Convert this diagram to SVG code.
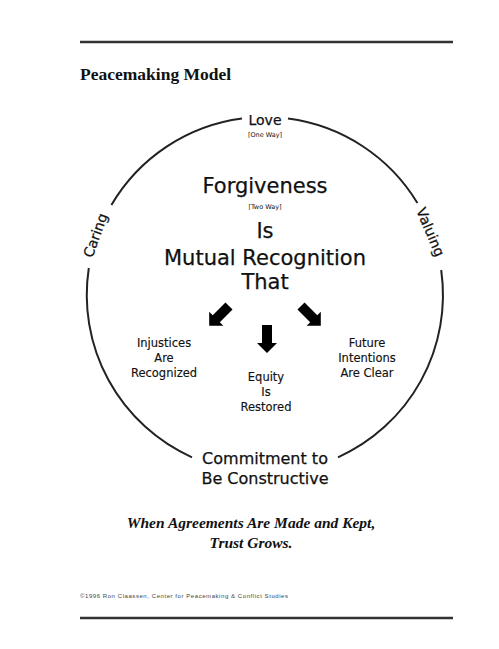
<svg xmlns="http://www.w3.org/2000/svg" width="499" height="649" viewBox="0 0 499 649">
<style>
.h{font-family:"DejaVu Sans","Liberation Sans",sans-serif;fill:#111;text-anchor:middle;stroke:#111;stroke-width:0.25}
.big{font-size:21px}
.mid{font-size:16px}
.sm{font-size:11.5px;stroke-width:0.15}
.tiny{font-size:6.5px;stroke-width:0}
.rule{stroke:#333;stroke-width:2.5}
.arc{fill:none;stroke:#222;stroke-width:2}
.arr{fill:#000}
.ft{font-family:"Liberation Serif",serif;font-weight:bold;font-style:italic;font-size:15.5px;fill:#111;text-anchor:middle}
</style>
<rect width="499" height="649" fill="#fff"/>
<line class="rule" x1="80" y1="42" x2="453" y2="42"/>
<line class="rule" x1="80" y1="618" x2="453" y2="618"/>
<text x="80" y="80" font-family="Liberation Serif,serif" font-weight="bold" font-size="17.5" fill="#111">Peacemaking Model</text>
<g id="connectors">
<path class="arc" d="M288,118.5 A178,178 0 0 1 417.4,203"/>
<path class="arc" d="M441.2,270 A178,178 0 0 1 338,457.3"/>
<path class="arc" d="M192,457.3 A178,178 0 0 1 88.8,268"/>
<path class="arc" d="M111.4,205 A178,178 0 0 1 242,118.5"/>
<polygon class="arr" transform="translate(229,306) rotate(45)" points="-5,0 5,0 5,18 10,18 0,28 -10,18 -5,18"/>
<polygon class="arr" transform="translate(267,325)" points="-5,0 5,0 5,18 10,18 0,28 -10,18 -5,18"/>
<polygon class="arr" transform="translate(301,306) rotate(-45)" points="-5,0 5,0 5,18 10,18 0,28 -10,18 -5,18"/>
</g>
<g id="love"><text class="h mid" x="265" y="125" style="font-size:14px">Love</text><text class="h tiny" x="265" y="137">[One Way]</text></g>
<g id="caring"><text class="h mid" transform="translate(100,237) rotate(-70)" style="font-size:14px">Caring</text></g>
<g id="valuing"><text class="h mid" transform="translate(426,234) rotate(67)" style="font-size:14px">Valuing</text></g>
<g id="center">
<text class="h big" x="265" y="193">Forgiveness</text>
<text class="h tiny" x="265" y="209">[Two Way]</text>
<text class="h big" x="265" y="238">Is</text>
<text class="h big" x="265" y="265">Mutual Recognition</text>
<text class="h big" x="265" y="289">That</text>
</g>
<g id="injustices"><text class="h sm" x="164" y="347">Injustices</text><text class="h sm" x="164" y="362">Are</text><text class="h sm" x="164" y="377">Recognized</text></g>
<g id="equity"><text class="h sm" x="266" y="381">Equity</text><text class="h sm" x="266" y="396">Is</text><text class="h sm" x="266" y="411">Restored</text></g>
<g id="future"><text class="h sm" x="367" y="347">Future</text><text class="h sm" x="367" y="362">Intentions</text><text class="h sm" x="367" y="377">Are Clear</text></g>
<g id="commitment"><text class="h mid" x="265" y="464">Commitment to</text><text class="h mid" x="265" y="484">Be Constructive</text></g>
<g id="footer">
<text class="ft" x="251" y="528">When Agreements Are Made and Kept,</text>
<text class="ft" x="251" y="548">Trust Grows.</text>
<text x="80" y="598" font-family="Liberation Sans,sans-serif" font-size="6" fill="#444" textLength="208">©1996 Ron Claassen, Center for Peacemaking &amp; Conflict Studies</text>
</g>
</svg>
